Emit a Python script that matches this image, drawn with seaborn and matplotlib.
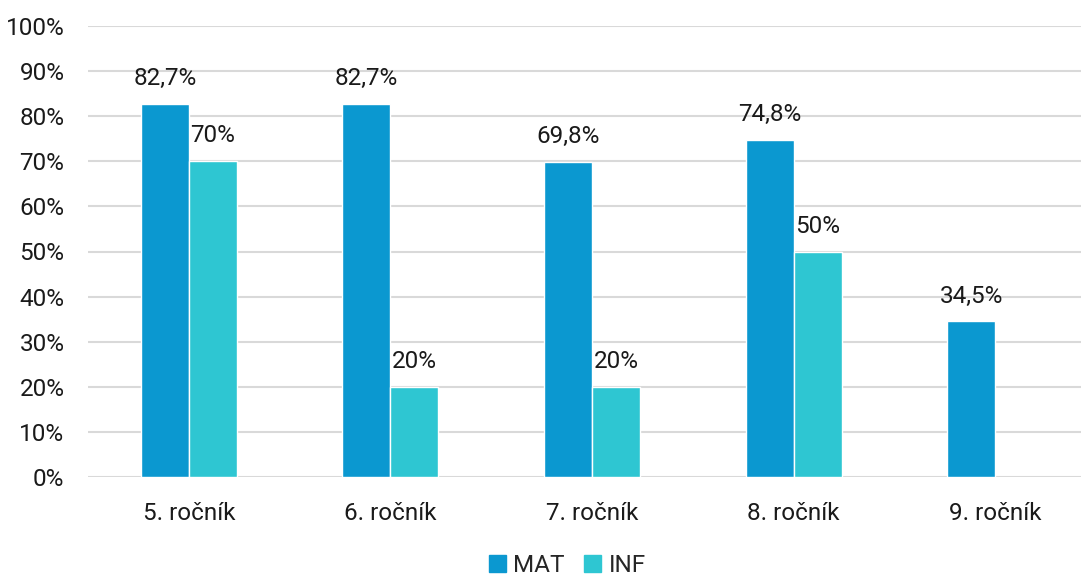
import pandas as pd
import numpy as np
import matplotlib.pyplot as plt
import seaborn as sns

# values
grades = ['5. ročník', '6. ročník', '7. ročník', '8. ročník', '9. ročník']
mat = [82.7, 82.7, 69.8, 74.8, 34.5]
inf = [70, 20, 20, 50, np.nan]
series = ['MAT', 'INF']
colors = ['#0b98d0', '#2ec6d2']

df = pd.DataFrame({
    'grade': grades * 2,
    'subject': ['MAT'] * len(grades) + ['INF'] * len(grades),
    'value': mat + inf,
})

sns.set_style('white')
plt.rcParams['font.family'] = ['Roboto', 'DejaVu Sans']

fig = plt.figure(figsize=(10.81, 5.76), dpi=100)
ax = fig.add_axes([88 / 1081, 1 - 477 / 576, 1 - 88 / 1081, (477 - 26) / 576])

sns.barplot(data=df, x='grade', y='value', hue='subject', hue_order=series,
            palette=colors, width=0.476, ax=ax, legend=False, saturation=1)

def fmt(v):
    if np.isnan(v):
        return ''
    s = f'{v:.1f}'.rstrip('0').rstrip('.')
    return s.replace('.', ',') + '%'

for cont in ax.containers:
    ax.bar_label(cont, labels=[fmt(b.get_height()) for b in cont], padding=10,
                 fontsize=17.5, color='#1a1a1a')

ax.set_ylim(0, 100)
ax.set_xlim(-0.5, 4.5 - 15 / 201.5)
ax.set_yticks(range(0, 101, 10))
ax.set_yticklabels([f'{t}%' for t in range(0, 101, 10)])
ax.yaxis.grid(True, color='#d9d9d9', linewidth=1.5)
ax.set_axisbelow(True)
for s in ax.spines.values():
    s.set_visible(False)
ax.tick_params(axis='both', length=0, labelsize=17.5, colors='#1a1a1a')
ax.tick_params(axis='x', pad=18)
ax.tick_params(axis='y', pad=17)
ax.set_xlabel('')
ax.set_ylabel('')

handles = [plt.Rectangle((0, 0), 1, 1, color=c) for c in colors]
fig.legend(handles, series, loc='lower center', bbox_to_anchor=(0.525, -0.04), ncol=2,
           frameon=False, fontsize=17.5, handlelength=0.7, handleheight=0.7,
           handletextpad=0.3, columnspacing=0.8)

fig.savefig('out.png', dpi=100)
